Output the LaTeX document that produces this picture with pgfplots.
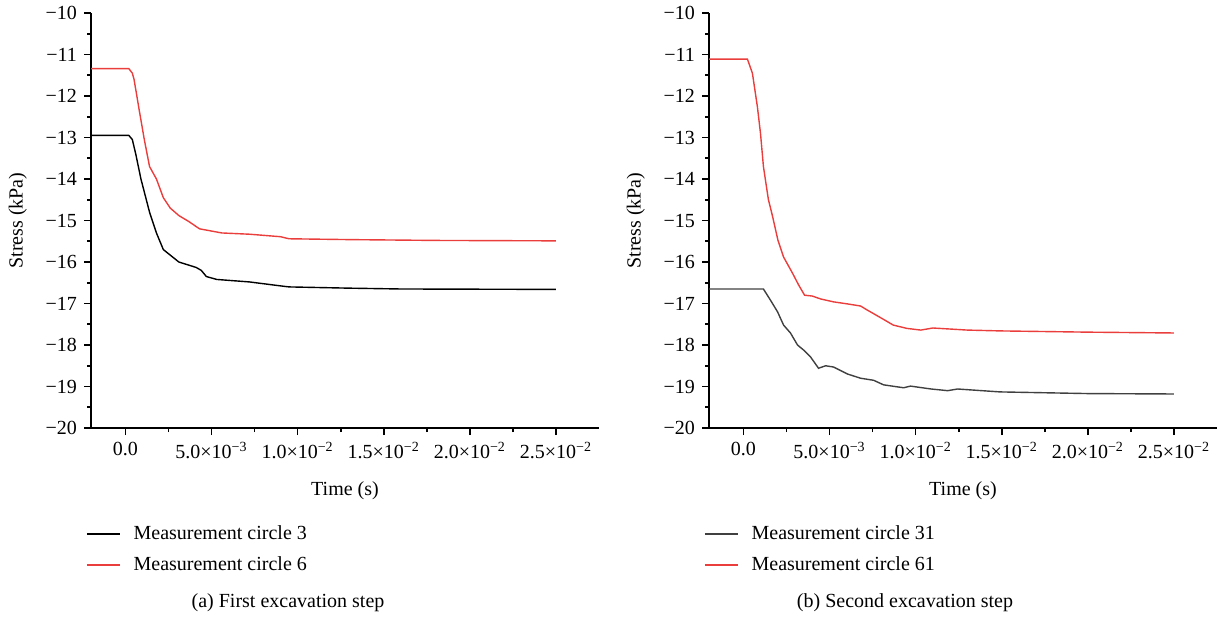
\documentclass[border=0pt]{standalone}
\usepackage{fontspec}
\setmainfont{Liberation Serif}
\usepackage{pgfplots}
\pgfplotsset{compat=1.18}

\definecolor{cred}{RGB}{234,62,60}
\definecolor{cgray}{RGB}{64,64,64}

\pgfplotsset{
  stressaxis/.style={
    scale only axis,
    width=254pt, height=207.5pt,
    xmin=-0.002, xmax=0.0275,
    ymin=-20, ymax=-10,
    axis x line*=bottom, axis y line*=left,
    axis line style={-, line width=0.8pt},
    tick style={line width=0.8pt, black},
    tick align=outside,
    major tick length=3.5pt, minor tick length=2pt,
    minor x tick num=1, minor y tick num=1,
    scaled x ticks=false,
    xtick={0,0.005,0.01,0.015,0.02,0.025},
    xticklabels={0.0, 5.0×10\textsuperscript{−3}, 1.0×10\textsuperscript{−2},
      1.5×10\textsuperscript{−2}, 2.0×10\textsuperscript{−2}, 2.5×10\textsuperscript{−2}},
    ytick={-20,-19,...,-10},
    yticklabels={−20,−19,−18,−17,−16,−15,−14,−13,−12,−11,−10},
    tick label style={font=\fontsize{10}{12}\selectfont},
    label style={font=\fontsize{10}{12}\selectfont},
    xlabel={Time (s)}, ylabel={Stress (kPa)},
    xlabel style={at={(axis description cs:0.5,-0.15)}, anchor=center},
    ylabel style={at={(axis description cs:-0.144,0.5)}, anchor=center},
    legend style={at={(axis description cs:-0.022,-0.215)}, anchor=north west,
      draw=none, fill=none, font=\fontsize{10}{12}\selectfont, row sep=3pt,
      /tikz/every odd column/.append style={column sep=4.5pt}},
    legend cell align=left,
    legend image code/.code={\draw[#1] (0pt,0pt) -- (16.5pt,0pt);},
  }
}

\begin{document}
\begin{tikzpicture}
\useasboundingbox (0,0) rectangle (609pt,-309pt);

% (a) first excavation step
\begin{axis}[stressaxis, at={(45.5pt,-214pt)}, anchor=south west]
\addplot[black, line width=0.7pt] coordinates {
(-0.002,-12.95) (0.0002,-12.95) (0.0004,-13.05) (0.0006,-13.4) (0.0009,-14.0)
(0.0014,-14.8) (0.0018,-15.3) (0.0022,-15.7) (0.0025,-15.8) (0.0031,-16.0)
(0.0041,-16.13) (0.0044,-16.2) (0.0047,-16.35) (0.0053,-16.42) (0.0072,-16.48)
(0.0091,-16.58) (0.0095,-16.6) (0.013,-16.63) (0.016,-16.65) (0.025,-16.66)
};
\addlegendentry{Measurement circle 3}
\addplot[cred, line width=0.7pt] coordinates {
(-0.002,-11.34) (0.0002,-11.34) (0.0004,-11.45) (0.0005,-11.6) (0.0008,-12.34)
(0.0011,-13.06) (0.0014,-13.7) (0.0018,-14.0) (0.0022,-14.45) (0.0026,-14.7)
(0.0031,-14.88) (0.0037,-15.03) (0.0043,-15.2) (0.0056,-15.3) (0.0072,-15.33)
(0.009,-15.39) (0.0095,-15.44) (0.013,-15.46) (0.018,-15.48) (0.025,-15.49)
};
\addlegendentry{Measurement circle 6}
\end{axis}

% (b) second excavation step
\begin{axis}[stressaxis, at={(354.5pt,-214pt)}, anchor=south west]
\addplot[cgray, line width=0.7pt] coordinates {
(-0.002,-16.65) (0.00116,-16.65) (0.00157,-16.92) (0.00198,-17.2) (0.00233,-17.52)
(0.00273,-17.71) (0.00314,-18.0) (0.00349,-18.12) (0.0039,-18.29) (0.00436,-18.56)
(0.00477,-18.5) (0.00523,-18.53) (0.00605,-18.7) (0.0068,-18.8) (0.00756,-18.85)
(0.00814,-18.96) (0.0093,-19.03) (0.0097,-18.99) (0.0109,-19.06) (0.01186,-19.1)
(0.01244,-19.06) (0.0149,-19.13) (0.02,-19.17) (0.025,-19.18)
};
\addlegendentry{Measurement circle 31}
\addplot[cred, line width=0.7pt] coordinates {
(-0.002,-11.11) (0.00023,-11.11) (0.00052,-11.45) (0.00081,-12.26) (0.00099,-12.9)
(0.00116,-13.7) (0.00145,-14.5) (0.00169,-14.9) (0.002,-15.47) (0.00233,-15.88)
(0.00285,-16.27) (0.0032,-16.55) (0.00355,-16.8) (0.004,-16.82) (0.00448,-16.89)
(0.00523,-16.96) (0.00605,-17.01) (0.0068,-17.06) (0.0072,-17.16) (0.008,-17.35)
(0.0087,-17.52) (0.0095,-17.6) (0.0103,-17.64) (0.011,-17.59) (0.013,-17.64)
(0.0149,-17.66) (0.02,-17.69) (0.025,-17.71)
};
\addlegendentry{Measurement circle 61}
\end{axis}

\node[font=\fontsize{10}{12}\selectfont] at (144pt,-301.5pt) {(a) First excavation step};
\node[font=\fontsize{10}{12}\selectfont] at (452.5pt,-301.5pt) {(b) Second excavation step};
\end{tikzpicture}
\end{document}
